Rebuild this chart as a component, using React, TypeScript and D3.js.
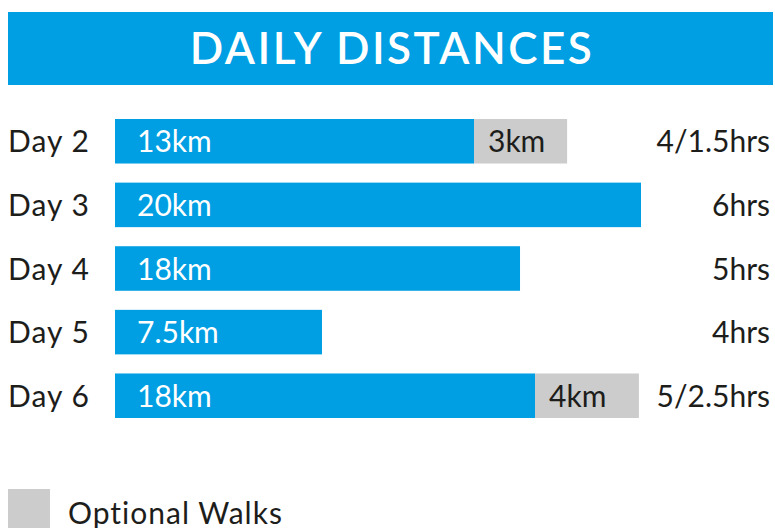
import { scaleBand, scaleLinear } from "d3";

// chart data
const days = ["Day 2", "Day 3", "Day 4", "Day 5", "Day 6"];
// drawn bar lengths (km units)
const mainLengths = [13.65, 20, 15.4, 7.87, 15.97];
const optionalLengths = [3.54, 0, 0, 0, 3.95];
const mainLabels = ["13km", "20km", "18km", "7.5km", "18km"];
const optionalLabels = ["3km", "", "", "", "4km"];
const timeLabels = ["4/1.5hrs", "6hrs", "5hrs", "4hrs", "5/2.5hrs"];

const W = 775;
const H = 528;
const BLUE = "#009fe3";
const GREY = "#cccccc";
const INK = "#1d1d1b";
const FONT = "Lato, 'Open Sans', sans-serif";

const App = () => {
    const xScale = scaleLinear().domain([0, 20]).range([115, 641]);
    const yScale = scaleBand()
        .domain(days)
        .range([119, 418])
        .paddingInner(0.3)
        .paddingOuter(0);
    const bw = yScale.bandwidth();

    return (
        <svg
            width={W}
            height={H}
            style={{ position: "absolute", left: 0, top: 0 }}
            fontFamily={FONT}
        >
            {/* title banner */}
            <rect x={8} y={12} width={765} height={73} fill={BLUE} />
            <text
                x={392}
                y={64}
                textAnchor="middle"
                fill="#fff"
                fontSize={44}
                fontWeight={600}
                letterSpacing={2.5}
            >
                DAILY DISTANCES
            </text>

            {days.map((d, i) => {
                const y = yScale(d) ?? 0;
                const mid = y + bw / 2;
                const x1 = xScale(mainLengths[i]);
                const x2 = xScale(mainLengths[i] + optionalLengths[i]);
                return (
                    <g key={d}>
                        <text x={8} y={mid + 11} fontSize={30} fill={INK} letterSpacing={1}>
                            {d}
                        </text>
                        <rect x={xScale(0)} y={y} width={x1 - xScale(0)} height={bw} fill={BLUE} />
                        <text x={xScale(0) + 22} y={mid + 11} fontSize={30} fill="#fff">
                            {mainLabels[i]}
                        </text>
                        {optionalLengths[i] > 0 && (
                            <>
                                <rect x={x1} y={y} width={x2 - x1} height={bw} fill={GREY} />
                                <text x={x1 + 14} y={mid + 11} fontSize={30} fill={INK}>
                                    {optionalLabels[i]}
                                </text>
                            </>
                        )}
                        <text x={770} y={mid + 11} fontSize={30} fill={INK} textAnchor="end">
                            {timeLabels[i]}
                        </text>
                    </g>
                );
            })}

            {/* legend */}
            <rect x={8} y={489} width={42} height={42} fill={GREY} />
            <text x={68} y={524} fontSize={30} fill={INK} letterSpacing={1}>
                Optional Walks
            </text>
        </svg>
    );
};

export default App;
